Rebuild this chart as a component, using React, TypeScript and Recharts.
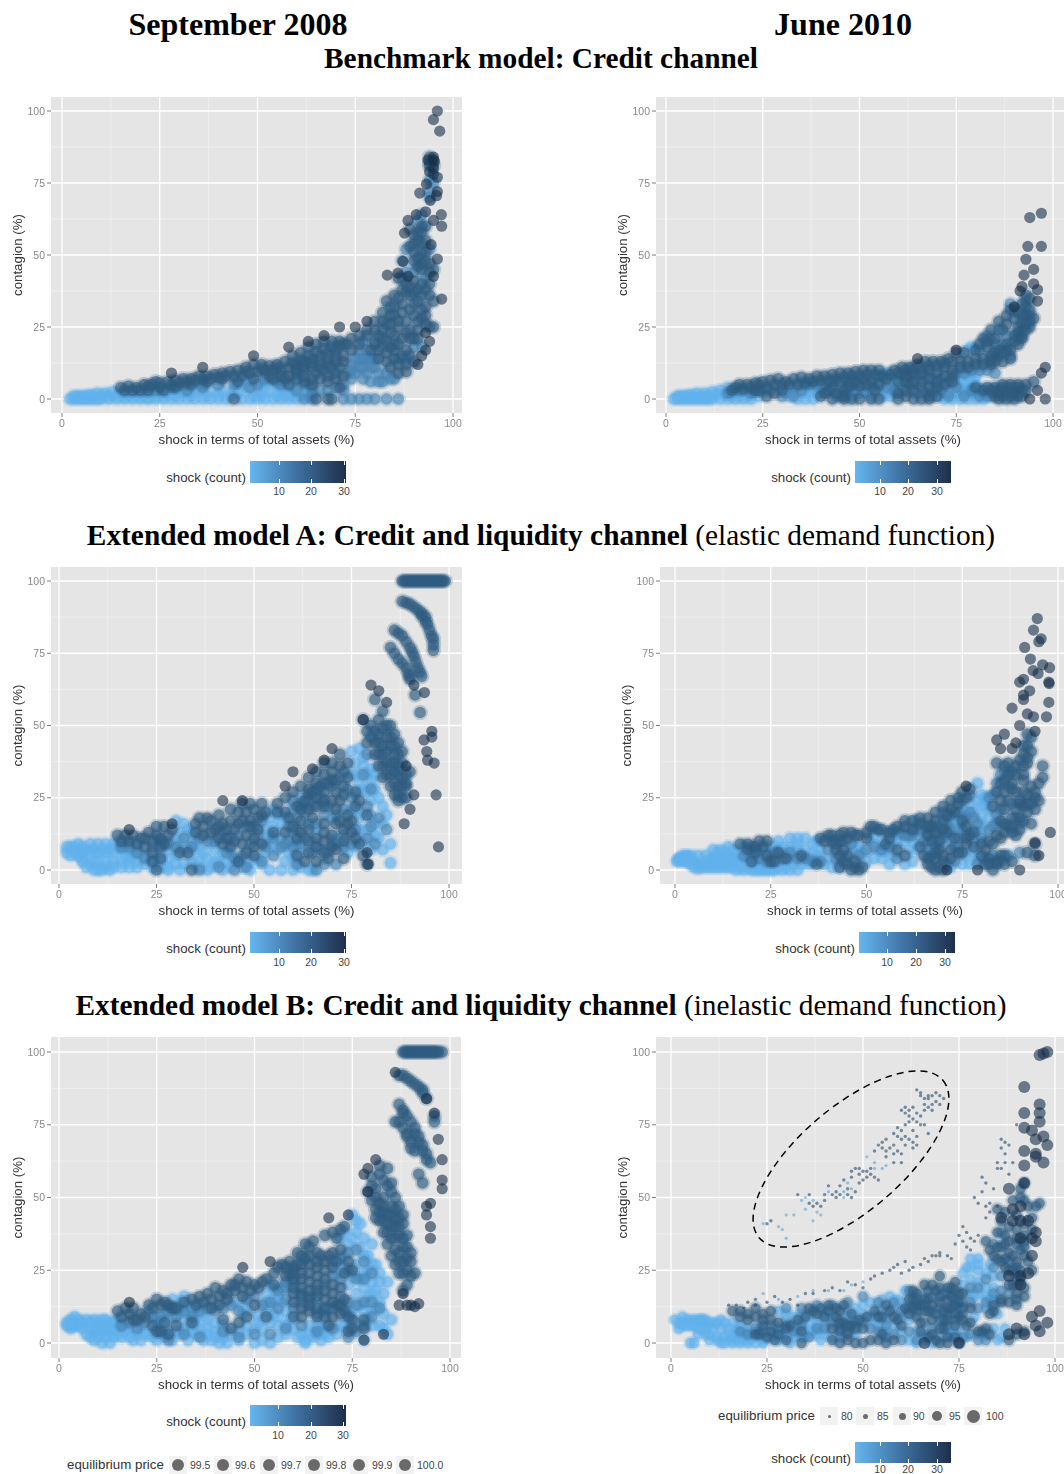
import React from "react";
import { ScatterChart, Scatter, XAxis, YAxis, CartesianGrid } from "recharts";

type Pt = [number, number];

const majorTicks = [0, 25, 50, 75, 100];
const minorTicks = [12.5, 37.5, 62.5, 87.5];
const priceFine = ["99.5", "99.6", "99.7", "99.8", "99.9", "100.0"];
const priceWide = ["80", "85", "90", "95", "100"];

// September 2008, benchmark
const bench08Pale: Pt[] = [[2,0],[3,0],[4,0],[5,0],[6,0],[7,0],[8,0],[9,0],[10,0],[12,0],[14,0],[16,0],[18,0],[20,0],[22,0],[24,0],[26,0],[28,0],[30,0],[32,0],[34,0],[36,0],[38,0],[40,0],[42,0],[46,0],[48,0],[50,0],[52,0],[54,0],[56,0],[58,0],[60,0],[5,1],[7,1.5],[9,2],[11,2],[13,2.5],[15,2],[17,2],[19,2.5],[21,1.5],[28,2],[31,2],[35,3],[38,3],[41,3],[44,3],[47,4],[50,3],[53,3],[56,3],[59,4],[62,3],[48,6],[52,6],[60,7],[3,1],[4,1],[6,1],[8,1],[10,1],[12,1],[14,1],[16,1],[18,1],[20,1],[22,0.5],[24,1],[26,1],[29,1],[33,1],[37,1],[40,1.5],[43,1],[45,2],[49,1],[51,1],[55,1],[57,1],[59,1],[61,1],[63,1],[34,3],[30,3],[27,3],[46,5],[52,4],[55,5],[58,2]];
const bench08Mid: Pt[] = [[62,0],[64,0],[72,0],[74,0],[76,0],[78,0],[80,0],[83,0],[86,0],[72,5],[74,7],[76,11],[77,14],[79,11],[81,9],[78,17],[75,9],[80,14],[77,20],[74,12],[79,6],[82,6],[84,7],[36,5],[31,5],[55,6],[50,5],[64,4],[73,9],[75,14],[77,11],[79,14],[76,17],[78,14],[80,11],[81,6],[77,7],[86,14],[88,14],[90,18],[92,18],[85,19],[83,9],[85,7],[80,20],[82,18],[76,14],[74,10],[78,9],[72,3],[68,3],[64,2],[60,3],[56,5],[52,7],[48,4],[44,5],[40,5],[36,4],[32,3],[28,4],[24,3],[70,4],[66,3],[62,5],[88,44],[90,44],[93,42],[87,48],[88,52],[94,52],[92,64],[91,62],[94,76],[95,75],[94,72],[94,70]];
const bench08Deep: Pt[] = [[15,4],[17,4.5],[19,4],[21,5],[23,5],[25,4],[22,3],[24,6],[27,6],[29,6.5],[31,7],[33,7],[35,8],[37,8],[39,8.5],[41,9],[43,9.5],[45,10],[47,11],[49,12],[51,12],[53,11.5],[55,12],[57,13],[59,15],[61,16],[63,18],[65,19],[67,20],[69,20],[71,20],[44,8],[46,8],[48,9],[50,9.5],[52,10],[54,10],[56,10],[58,11],[60,12],[62,13],[64,14],[66,15],[68,16],[70,17],[60,9],[62,10],[64,11],[66,11],[68,12],[70,13],[72,15],[74,17],[76,19],[72,19],[74,21],[66,7],[68,8],[70,9],[64,7],[62,6],[58,5],[57,7],[53,8],[49,7],[45,6],[41,7],[37,6],[33,5],[29,4],[26,3],[44,0],[65,0],[68,0],[69,0],[71,4],[78,22],[80,24],[82,27],[84,29],[83,34],[85,36],[85,32],[87,33],[87,38],[86,42],[88,40],[89,36],[90,33],[91,38],[92,40],[93,38],[94,36],[93,32],[92,28],[93,26],[91,24],[90,21],[88,23],[86,25],[84,23],[82,21],[80,19],[79,17],[84,18],[86,19],[88,17],[85,14],[83,13],[81,14],[86,9],[88,9.5],[89,21],[91,21],[94,25],[95,25],[90,48],[91,46],[92,45],[94,44],[95,45],[89,53],[90,57],[92,58],[93,60],[92,54],[93,51],[16,3],[18,3],[20,3],[22,4.5],[25,5.5],[28,5],[30,5.5],[32,6],[34,6.5],[36,7],[38,7],[40,7.5],[42,8],[47,9.5],[51,10.5],[55,11],[59,12.5],[61,13.5],[63,15],[65,16.5],[67,17.5],[69,18],[71,18.5],[73,19],[60,10.5],[62,11.5],[64,12.5],[66,13],[68,14],[70,15],[72,13],[65,9],[67,10],[69,11],[71,11],[64,5],[68,6],[70,7],[72,8],[58,8],[56,8],[60,7],[62,8],[54,7],[76,22],[78,24],[80,27],[82,30],[84,32],[86,35],[88,37],[90,37],[89,39],[87,42],[90,41],[94,40],[92,36],[91,34],[89,31],[87,30],[85,29],[83,26],[81,22],[83,20],[85,22],[87,21],[89,24],[91,27],[93,29],[95,34],[92,31],[90,29],[88,27],[86,27],[84,26],[82,24],[81,17],[83,16],[85,17],[87,15],[89,15],[88,12],[86,12],[84,11],[90,13],[92,47],[94,47],[91,49],[93,48],[90,51],[92,51],[93,55],[91,55],[90,54],[91,58],[92,60],[89,59],[94,82],[95,81],[94,84],[94,81]];
const bench08Lone: Pt[] = [[96,100],[95,97],[96.6,93],[95,83],[93.6,83],[95,84],[95.3,82.5],[95,80],[94,79],[96,77],[95,78],[93.2,74.6],[91.5,71.5],[96,72],[95.8,70.6],[94.2,69],[97,64],[97.1,60],[93,65],[90.6,64],[88.5,62],[95,62],[87.6,57.6],[94.4,53.6],[87.2,47.8],[96,48.6],[83.2,43],[85.9,43.7],[88.5,42.6],[95,42.6],[97.1,34.7],[75,25],[78,27],[71,25],[67,22],[63,20],[58,18],[49,15],[36,11],[28,9],[93,17],[94,20],[92,15],[93,23],[91,12]];

// June 2010, benchmark
const bench10Pale: Pt[] = [[2,0],[3,0],[4,0],[5,0],[6,0],[7,0],[8,0],[9,0],[10,0],[11,0],[12,0],[14,0],[16,0],[18,0],[20,0],[22,0],[34,0],[36,0],[38,0],[4,1],[6,1.5],[8,2],[10,2],[12,2.5],[14,3],[16,4],[18,2],[20,2],[31,2],[33,3],[35,5],[37,3],[39,2],[45,3],[50,2],[52,2],[55,3],[57,2],[59,4],[57,9],[60,7],[61,4],[70,1],[72,2],[73,3],[75,2],[77,3],[79,2],[81,3],[83,2],[76,7],[78,8],[80,8],[79,18],[78,17],[3,1],[5,1],[7,1],[9,1],[11,1],[13,1.5],[15,2],[17,1],[19,1],[21,1],[24,1],[32,1],[36,2],[38,4],[40,4],[44,1],[47,2],[48,1],[53,1],[56,1],[58,1],[72,0],[74,0],[76,0],[78,0],[80,0],[82,0],[84,1],[76,4],[78,4],[80,5],[77,6],[79,6],[55,6],[58,5],[59,7]];
const bench10Mid: Pt[] = [[16,2],[19,3],[22,2],[25,3],[27,3],[30,1],[33,1],[35,3],[37,5],[39,5],[41,5],[43,6],[45,1],[47,6],[49,3],[51,3],[53,4],[55,8],[57,4],[59,3],[61,9],[63,8],[65,8],[67,8],[69,7],[71,7],[73,6],[75,9],[77,9],[79,10],[81,10],[83,10],[85,9],[65,2],[67,2],[69,3],[71,3],[73,1],[75,4],[77,1],[79,3],[81,1],[83,1],[89,15],[91,21],[92,24],[94,29],[93,34],[87,19],[85,19],[84,21],[86,24],[88,22],[83,22],[81,17],[89,33],[90,31]];
const bench10Deep: Pt[] = [[17,3],[19,5],[21,5],[23,3],[23,5.5],[25,6],[27,6.5],[29,7],[31,6],[33,7],[35,7.5],[37,7],[39,8],[41,8],[43,8.5],[45,9],[47,9],[49,9.5],[51,10],[53,10],[55,10],[28,2],[26,1],[30,3],[41,2],[43,4],[45,6],[47,4],[49,6],[51,7],[53,6],[55,5],[57,7],[59,10],[61,11],[63,11],[65,12],[67,13],[69,13],[71,13],[62,8],[64,9],[66,9],[68,10],[70,9],[72,11],[74,10],[76,11],[78,11],[80,12],[82,12],[84,12],[84,15],[86,15],[88,17],[90,20],[91,23],[92,26],[93,29],[93,32],[94,35],[95,28],[94,25],[92,21],[89,14],[87,13],[85,16],[73,14],[75,16],[77,16],[80,17],[82,21],[84,24],[86,27],[88,29],[89,31],[66,6],[68,7],[63,5],[68,1],[80,4],[83,4],[85,4],[87,4],[89,4],[91,4],[93,5],[95,6],[85,1],[87,1],[89,1],[91,1],[86,2],[90,2],[43,0],[46,1],[50,0],[55,0],[62,1],[66,0],[92,22],[94,27],[93,24],[18,4],[20,3.5],[22,4],[24,3],[24,5],[26,4],[28,5],[30,5],[32,5],[34,5],[36,5.5],[38,6],[40,6.5],[42,6.5],[44,7],[46,7.5],[48,8],[50,8],[52,8.5],[54,8.5],[40,1],[42,3],[44,2],[46,3],[48,5],[50,4.5],[52,5],[54,3],[56,8],[58,8.5],[60,9],[62,10],[64,10.5],[66,11],[68,11.5],[70,11.5],[72,12.5],[74,13],[76,13],[78,13],[80,14],[82,14],[84,13.5],[60,2],[62,3],[64,3],[64,6],[66,4],[68,4],[70,4],[70,6],[72,5],[74,6],[72,8],[74,8],[60,6],[62,6],[86,17],[88,19],[90,22],[91,25],[92,29],[92,33],[93,36],[94,31],[93,26],[91,19],[89,17],[87,16],[85,13],[83,18],[85,21],[87,24],[88,26],[90,28],[91,30],[81,19],[83,20],[86,3],[88,3],[90,3],[92,3],[84,3],[82,3],[88,0],[90,0],[86,0],[92,1],[87,5],[89,5],[91,5],[93,3],[60,0],[64,0],[68,0],[70,1],[46,0],[48,0],[53,0]];
const bench10Lone: Pt[] = [[94,63],[97,64.5],[97,53],[93.5,53],[93,48.5],[95,45],[92.5,43],[91.5,37.5],[92,39],[96,38],[96,34],[95,40],[90,32],[97,9],[98,11],[98,0],[94,0],[96,3],[75,17],[65,14]];

// September 2008, model A
const extA08Pale: Pt[] = [[2,8],[3,8],[4,8],[2,6],[3,5],[5,5],[5,9],[6,8],[8,9],[10,9],[12,9],[14,9],[6,6],[8,6],[10,6],[12,6],[14,6],[16,7],[18,6],[6,3],[8,2],[9,0],[11,0],[13,0],[10,3],[12,3],[14,3],[16,3],[18,3],[20,3],[22,2],[24,3],[26,3],[28,4],[30,5],[32,7],[31,10],[31,13],[30,17],[33,14],[34,10],[28,7],[26,6],[34,4],[36,3],[38,4],[40,3],[42,0],[38,0],[31,0],[28,0],[36,7],[40,7],[44,6],[46,3],[49,3],[52,2],[54,0],[57,0],[60,0],[64,0],[65,0],[53,6],[53,10],[53,14],[54,18],[55,21],[57,16],[57,11],[56,7],[59,6],[60,4],[61,9],[60,13],[60,21],[62,25],[75,41],[77,42],[78,39],[76,37],[78,36],[79,33],[80,31],[81,28],[82,25],[83,22],[84,19],[83,16],[80,24],[79,27],[77,30],[76,26],[75,21],[77,18],[79,14],[78,10],[76,8],[74,6],[82,11],[83,7],[85,9],[80,7],[85,2.5],[71,11],[66,14],[65,10],[70,18],[4,6],[6,4],[7,1],[9,3],[10,0],[12,1],[14,1],[16,1],[18,1],[20,1],[22,5],[24,1],[26,1],[28,1],[30,2],[32,2],[34,2],[36,1],[39,1],[41,3],[43,3],[44,1],[47,1],[49,0],[51,4],[7,7],[9,7],[11,7],[13,7],[15,8],[17,5],[19,5],[20,7],[29,10],[32,16],[34,13],[35,9],[37,6],[39,9],[42,6],[54,12],[55,15],[56,19],[58,18],[55,9],[58,3],[62,7],[62,1],[80,35],[81,33],[78,28],[80,19],[81,16],[81,12],[77,20],[75,33],[76,33],[77,14]];
const extA08Mid: Pt[] = [[16,8],[18,8],[20,6],[22,4],[24,8],[26,10],[28,9],[30,8],[32,11],[34,8],[36,11],[38,10],[40,10],[42,13],[44,11],[46,12],[48,15],[50,15],[52,17],[43,6],[45,4],[47,5],[49,9],[51,12],[53,8],[55,11],[57,8],[59,10],[61,14],[59,15],[61,18],[63,20],[65,22],[67,25],[69,22],[71,19],[73,21],[63,11],[65,6],[67,7],[69,6],[71,9],[73,8],[75,9],[76,14],[73,12],[70,10],[68,19],[66,16],[64,16],[62,9],[60,8],[58,9],[55,5],[52,3],[48,1],[45,0],[41,1],[36,0],[66,0],[68,2],[71,2],[61,2],[75,25],[74,28],[72,32],[70,29],[68,30],[66,28],[64,24],[62,23],[60,24],[78,33],[79,40],[80,28],[79,22],[80,15],[79,11],[84,14],[82,18],[81,9]];
const extA08Deep: Pt[] = [[15,12],[17,12],[19,12],[21,11],[23,13],[25,15],[27,15],[29,14],[25,12],[22,8],[24,6],[26,4],[26,8],[31,6],[33,6],[35,16],[37,15],[39,17],[41,19],[38,18],[40,14],[42,16],[44,17],[46,20],[48,20],[50,21],[46,16],[49,17],[42,9],[44,8],[47,9],[50,8],[46,3],[25,0],[34,0],[52,23],[51,14],[50,11],[56,23],[58,20],[58,25],[60,27],[62,29],[64,32],[66,30],[68,33],[70,34],[72,36],[72,40],[74,37],[68,37],[70,31],[64,26],[66,25],[68,27],[71,27],[73,29],[74,32],[76,27],[77,24],[79,19],[76,22],[74,19],[71,21],[68,22],[65,18],[62,17],[68,16],[71,16],[73,14],[75,13],[77,9],[78,5],[70,8],[68,10],[66,8],[64,6],[63,3],[66,3],[69,4],[73,4],[61,5],[79,2],[78,52],[79,48],[81,44],[82,40],[83,36],[84,33],[85,29],[86,26],[87,24],[81,59],[83,55],[84,50],[86,47],[87,44],[88,41],[86,40],[85,37],[87,36],[88,32],[89,29],[80,50],[82,47],[83,43],[85,43],[86,34],[87,29],[89,30],[90,34],[88,25],[88,93],[90,92],[92,90],[93,88],[94,86],[95,83],[96,78],[96,76],[86,83],[88,81],[90,77],[91,74],[92,70],[93,67],[85,77],[87,73],[89,70],[90,67],[88,100],[89,100],[90,100],[91,100],[92,100],[93,100],[94,100],[95,100],[96,100],[97,100],[98,100],[99,100],[92.6,54.5],[91.3,60.6],[89,92.5],[91,91],[93,89],[94,87.5],[94.5,85],[95.5,81],[96,80],[87,82],[89,79],[90.5,75.5],[91.5,72],[92.5,68.5],[86,75],[88,71.5],[89.5,68],[90,66],[88.5,100],[89.5,100],[90.5,100],[91.5,100],[92.5,100],[93.5,100],[94.5,100],[95.5,100],[96.5,100],[97.5,100],[98.5,100],[80,46],[81,48],[82,44],[83,40],[84,37],[84,41],[85,33],[86,30],[87,26],[82,52],[83,49],[85,50],[86,43],[87,40],[88,37],[85,46],[84,46],[82,36],[83,32],[86,37],[87,33],[88,29],[89,25],[89,33],[81,40],[79,44],[16,10],[18,10],[20,9],[22,11],[24,10],[26,11],[28,12],[27,9],[24,3],[35,13],[37,12],[39,13],[41,15],[43,14],[45,14],[47,17],[49,15],[51,18],[36,18],[44,21],[47,23],[49,23],[52,19],[53,20],[43,11],[45,10],[48,12],[41,11],[50,5],[48,6],[52,9],[55,13],[56,20],[59,18],[61,22],[63,24],[65,27],[67,29],[69,30],[71,31],[73,34],[66,34],[70,37],[64,28],[62,21],[64,21],[66,22],[68,24],[70,24],[72,24],[73,26],[60,15],[62,13],[64,14],[66,11],[68,13],[70,12],[72,17],[74,16],[73,10],[71,7],[68,6],[64,10],[61,11],[58,13],[75,17],[76,11]];
const extA08Lone: Pt[] = [[80,64],[82,62],[84,58],[89,36],[91,26],[90,21],[88.5,16],[93.7,61.4],[93.6,45],[95.6,48],[95.6,46],[94.3,41],[94.5,38],[96.2,37],[96.7,26],[97.3,8],[79.3,2],[79,6],[60,34],[68,38],[70,42],[65,35],[58,29],[42,24],[47,24],[29,16],[18,14],[78,52],[91,64]];

// June 2010, model A
const extA10Pale: Pt[] = [[0.5,3],[1,4],[2,4],[3,5],[3,3],[4,2],[4,5],[5,3],[6,2],[6,5],[8,5],[8,3],[6,0.5],[8,1],[10,1],[12,1],[14,1],[16,0],[18,0],[20,0],[22,0],[24,0],[26,0],[28,0],[30,0],[32,0],[10,4],[10,7],[12,4],[12,7],[14,4],[14,8],[16,6],[16,3],[18,8],[19,4],[21,3],[23,2],[25,6],[27,10],[28,6],[30,11],[30,4],[32,11],[32,7],[34,11],[35,2],[36,6],[37,10],[40,4],[46,6],[48,8],[50,3],[52,12],[53,7],[55,6],[56,2],[58,13],[58,9],[61,7],[62,3],[63,17],[64,12],[71,19],[73,16],[72,11],[74,8],[75,21],[77,23],[79,24],[81,22],[80,18],[78,14],[82,18],[80,26],[79,30],[78,10],[76,5],[75,2],[2,3],[1,3.5],[2,5],[4,4],[5,1],[7,1],[9,1],[11,1],[13,1],[15,1],[17,1],[19,1],[21,0],[23,0],[25,0],[27,1],[29,1],[31,2],[33,2],[35,4],[37,5],[38,7],[39,2],[41,1],[43,1],[9,3],[11,3],[13,3],[15,4],[17,4],[11,6],[13,6],[15,7],[20,6],[22,6],[24,8],[26,8],[28,8],[30,8],[32,9],[34,7],[36,9],[47,8],[49,6],[51,10],[52,4],[54,4],[54,10],[55,13],[57,5],[58,11],[60,10],[60,2],[62,10],[63,7],[65,15],[66,7],[68,10],[70,9],[72,17],[74,14],[76,12],[76,19],[74,17],[78,20],[80,22],[81,25],[80,15],[82,21],[80,13],[78,6],[72,1],[77,2],[79,4],[81,4]];
const extA10Mid: Pt[] = [[18,5],[20,8],[22,4],[24,3],[26,6],[28,4],[30,6],[32,4],[34,4],[36,3],[38,3],[40,7],[42,4],[44,10],[46,9],[48,5],[50,7],[52,8],[54,7],[56,8],[58,4],[59,13],[61,12],[63,14],[65,10],[66,9],[67,5],[68,8],[69,13],[70,11],[71,16],[72,14],[73,8],[74,11],[75,14],[76,18],[77,20],[78,18],[79,16],[80,11],[82,14],[84,16],[84,19],[85,21],[83,15],[82,25],[83,26],[84,30],[85,33],[86,34],[87,29],[88,23],[89,18],[90,16],[74,20],[72,19],[70,20],[68,15],[66,13],[64,14],[62,12],[60,12],[75,24],[77,26],[73,3],[71,2],[79,2],[83,5],[85,3],[87,5],[90,6]];
const extA10Deep: Pt[] = [[17,9],[19,9],[21,8],[20,3],[23,8],[24,5],[25,3],[27,6],[29,4],[33,5],[37,2],[38,11],[40,12],[41,10],[43,12],[45,11],[42,9],[44,7],[45,5],[45,2],[46,0],[48,0],[47,3],[48,12],[50,13],[51,15],[53,14],[55,9],[56,11],[57,14],[58,7],[60,5],[60,15],[62,17],[64,16],[66,18],[64,8],[65,5],[66,2],[66,12],[67,15],[68,20],[69,7],[70,14],[70,22],[72,24],[74,23],[75,27],[77,28],[68,4],[68,0],[70,0],[72,4],[74,6],[76,9],[76,15],[80,9],[82,10],[84,12],[86,13],[88,15],[90,18],[91,22],[92,26],[93,29],[94,25],[92,20],[93,16],[89,12],[85,17],[83,22],[84,27],[85,30],[87,33],[88,30],[89,27],[90,24],[91,33],[89,36],[87,37],[91,40],[92,43],[93,46],[90,38],[84,37],[80,5],[82,4],[85,5],[88,3],[83,0],[84,2],[86,5],[92,6],[94,9],[94,5],[95,30],[95,24],[96,32],[96,36],[19,7],[21,6],[22,10],[24,10],[26,3],[39,10],[41,12],[43,10],[44,13],[46,13],[47,12],[42,7],[43,5],[44,3],[43,1],[47,1],[49,1],[50,11],[52,15],[54,14],[56,13],[58,15],[60,17],[62,14],[64,18],[66,15],[67,10],[68,13],[68,17],[69,10],[70,17],[70,3],[71,19],[72,21],[73,20],[74,25],[76,25],[70,5],[68,6],[67,1],[69,1],[66,4],[72,7],[71,13],[73,11],[75,6],[75,17],[76,11],[78,13],[77,12],[78,8],[81,7],[83,9],[85,11],[87,15],[88,18],[89,21],[90,23],[91,27],[91,31],[92,37],[91,36],[89,33],[88,28],[87,24],[86,21],[85,24],[86,27],[86,31],[88,34],[86,36],[92,39],[91,43],[93,41],[92,47],[94,21],[93,23],[94,27],[92,23],[91,17],[90,14],[88,13],[86,16],[84,3],[86,2],[82,2],[81,2]];
const extA10Lone: Pt[] = [[94.6,87],[93.6,83],[95.6,80],[95,79],[91.3,77],[92.8,73],[96,71],[97.8,70],[93.5,69],[94.8,68],[91,66],[90,65],[97.6,65],[97.7,64.5],[92.6,62],[91,60.5],[91,59],[97.6,58],[88,56],[92,54],[97,53],[93.6,53],[90,50],[94,48],[86,47],[84,45],[85,42],[88,42],[89,44],[98,13],[90,0],[95,5],[94,9.5],[79,0],[71,0],[76,29]];

// September 2008, model B
const extB08Pale: Pt[] = [[2,7],[3,8],[4,9],[5,8],[3,6],[5,6],[6,5],[7,8],[9,8],[11,8],[13,7],[15,8],[7,3],[9,1],[11,0],[13,0],[15,3],[9,4],[11,4],[13,4],[15,5],[17,4],[19,1],[21,1],[23,3],[25,1],[27,2],[29,1],[31,3],[33,1],[35,3],[37,1],[39,1],[41,0],[27,6],[29,9],[31,14],[33,13],[31,10],[33,7],[35,6],[37,9],[25,9],[23,11],[21,6],[38,5],[40,4],[43,0],[46,1],[48,3],[50,0],[52,1],[54,0],[50,5],[52,5],[54,7],[56,6],[56,2],[58,6],[55,10],[57,14],[55,18],[57,19],[53,14],[61,2],[63,0],[65,2],[67,1],[69,2],[64,6],[66,6],[68,6],[75,44],[77,41],[76,38],[78,36],[80,34],[79,30],[81,27],[82,24],[84,21],[83,17],[80,21],[78,24],[76,27],[73,30],[74,34],[72,36],[71,24],[74,20],[76,17],[79,16],[78,11],[81,12],[83,10],[85,8],[82,6],[79,8],[75,11],[73,6],[71,3],[84,3],[78,1],[66,14],[69,12],[47,10],[45,14],[2,6],[3,5],[4,6],[4,7],[6,7],[8,7],[10,7],[12,8],[14,7],[8,5],[10,5],[12,5],[14,5],[16,6],[18,5],[8,2],[10,2],[12,2],[14,2],[16,2],[18,2],[20,3],[22,3],[24,2],[26,3],[28,4],[30,4],[32,5],[34,4],[36,5],[38,3],[40,2],[42,2],[44,3],[46,4],[33,10],[35,9],[30,12],[29,15],[32,16],[27,10],[25,7],[36,13],[34,11],[38,8],[40,7],[42,6],[48,6],[51,7],[47,13],[49,11],[51,9],[53,11],[55,14],[53,17],[54,20],[56,16],[58,11],[56,9],[59,8],[58,3],[60,5],[62,3],[64,3],[66,3],[68,3],[63,1],[67,4],[76,42],[73,38],[75,36],[77,33],[78,30],[80,27],[79,25],[77,22],[75,23],[73,26],[80,17],[82,14],[80,11],[77,13],[78,19],[82,21],[81,18],[76,7],[80,6],[83,5],[74,10],[72,6]];
const extB08Mid: Pt[] = [[16,6],[18,7],[20,5],[22,7],[24,9],[26,9],[28,11],[30,9],[32,11],[34,9],[36,11],[38,12],[40,11],[42,12],[44,13],[46,11],[48,15],[50,16],[52,13],[54,14],[56,18],[58,19],[56,12],[58,15],[60,12],[62,14],[64,16],[66,10],[68,11],[70,12],[72,16],[74,14],[76,13],[78,14],[76,22],[74,25],[72,22],[70,23],[68,20],[70,28],[72,29],[74,31],[76,32],[78,28],[80,24],[78,22],[80,14],[82,12],[80,9],[78,6],[76,4],[74,2],[70,5],[66,4],[62,6],[58,5],[54,3],[50,3],[46,2],[42,4],[36,2],[32,3],[28,1],[60,21],[58,21],[62,17]];
const extB08Deep: Pt[] = [[15,11],[17,12],[19,12],[21,10],[19,8],[23,13],[25,15],[27,14],[29,12],[24,6],[26,4],[28,3],[30,6],[34,7],[34,15],[36,16],[38,17],[40,19],[42,18],[44,20],[46,22],[48,21],[39,12],[41,13],[43,15],[45,18],[47,16],[42,8],[44,5],[46,7],[48,9],[50,20],[50,13],[52,21],[53,9],[55,24],[57,27],[59,28],[58,23],[60,22],[62,30],[64,33],[66,31],[60,26],[62,24],[64,27],[66,26],[68,28],[60,17],[62,19],[64,21],[66,20],[68,22],[62,12],[64,15],[66,16],[68,15],[70,17],[71,13],[70,9],[72,10],[73,15],[72,19],[73,24],[70,31],[72,32],[70,38],[72,39],[74,28],[75,25],[68,37],[60,9],[64,11],[69,6],[75,8],[74,4],[78,5],[78,8],[79,52],[80,49],[81,46],[82,42],[83,38],[84,34],[85,30],[86,27],[87,24],[81,53],[83,50],[85,47],[86,43],[87,40],[88,36],[89,33],[80,57],[82,58],[84,54],[85,52],[86,50],[87,47],[88,44],[83,45],[85,40],[86,36],[87,31],[88,28],[89,25],[90,31],[90,23],[91,24],[89,20],[88,18],[87,92],[89,91],[90,90],[92,88],[93,86],[94,84],[87,82],[88,80],[89,78],[91,74],[92,71],[93,68],[94,65],[95,62],[87,76],[89,72],[90,69],[91,66],[88,100],[89,100],[90,100],[91,100],[92,100],[93,100],[94,100],[95,100],[96,100],[97,100],[98,100],[92,58],[93,55],[96,78],[96,76],[16,9],[18,10],[20,8],[22,9],[24,12],[26,13],[28,13],[30,12],[32,14],[25,4],[27,7],[35,13],[37,14],[39,15],[41,16],[43,17],[45,20],[47,19],[49,18],[51,19],[53,22],[55,20],[56,26],[58,26],[59,24],[61,27],[63,29],[61,31],[63,34],[65,35],[67,30],[69,30],[66,28],[64,30],[62,27],[60,24],[62,22],[64,24],[66,23],[68,25],[70,26],[60,19],[62,16],[64,18],[66,18],[68,18],[70,20],[71,28],[60,14],[62,9],[64,13],[66,12],[68,12],[70,14],[68,9],[72,13],[73,11],[75,5],[74,9],[66,9],[71,36],[73,40],[80,54],[81,50],[82,48],[83,47],[84,44],[85,44],[86,40],[87,37],[88,33],[89,29],[90,28],[82,45],[84,41],[85,36],[86,32],[87,28],[88,24],[84,38],[83,42],[81,43],[86,46],[87,43],[88,41],[89,37],[83,56],[85,55],[84,60],[82,61],[88,92],[91,89],[93,87],[88,79],[90,76],[91,72],[92,69],[93,66],[94,63],[86,76],[88,74],[89,71],[90,67],[88.5,100],[89.5,100],[90.5,100],[91.5,100],[92.5,100],[93.5,100],[94.5,100],[95.5,100],[96.5,100]];
const extB08Lone: Pt[] = [[86,93],[94,84],[96,79],[97,70],[98,63],[98,56],[98,53],[95,48],[94,47],[94,44],[95,40],[95,36],[89,13],[90,13],[91,12.5],[92,13.5],[87,13],[78,1],[83,3],[78,58],[79,52],[81,63],[79,60],[69,43],[74,44],[47,26],[54,28],[18,14],[88,17]];

// June 2010, model B
const priceTinyPale: Pt[] = [[24,41],[28,40],[29,39],[30,44],[32,44],[35,46],[34,49],[35,50],[37,49],[38,45],[39,44],[41,52],[45,50],[46,55],[53,60],[55,60],[56,61],[51,64],[53,62],[30,36],[37,42],[47,53],[45,52],[24,17],[28,15],[33,16],[37,18],[41,18],[45,18],[50,21],[47,20]];
const priceTinyDeep: Pt[] = [[25,41],[26,42],[33,51],[36,51],[38,48],[40,49],[41,54],[42,51],[43,52],[44,54],[45,56],[46,53],[47,57],[48,52],[49,55],[50,59],[51,57],[52,58],[53,57],[54,56],[48,60],[49,58],[53,66],[54,68],[55,67],[56,66],[58,65],[59,66],[60,65],[60,62],[56,70],[58,72],[59,71],[60,73],[61,71],[62,70],[63,69],[59,74],[60,80],[61,79],[62,78],[63,77],[64,76],[65,75],[63,73],[64,71],[61,81],[62,76],[64,87],[65,85],[66,84],[67,84],[68,85],[69,83],[70,82],[71,84],[66,82],[67,81],[68,80],[15,13],[17,13],[19,12],[22,13],[25,14],[29,14],[35,17],[40,18],[44,18],[50,19],[53,23],[57,25],[60,24],[62,25],[65,27],[67,28],[69,30],[70,30],[72,30],[73,29],[75,37],[76,40],[77,33],[78,32],[79,35],[80,37],[80,48],[81,52],[79,50],[83,45],[84,53],[85,47],[85,60],[86,60],[86,67],[87,65],[88,58],[89,62],[36,48],[37,47],[39,47],[40,51],[43,50],[44,51],[46,51],[47,50],[49,60],[50,56],[51,59],[52,60],[47,59],[55,69],[57,67],[58,68],[60,70],[61,68],[63,67],[56,64],[58,62],[62,80],[63,81],[64,79],[65,78],[66,75],[67,72],[64,68],[61,75],[65,86],[69,86],[68,82],[70,85],[67,85],[66,80],[20,14],[22,15],[27,16],[31,15],[33,13],[37,17],[42,19],[46,21],[48,20],[52,22],[55,24],[58,26],[59,27],[61,28],[63,26],[66,29],[68,30],[70,31],[74,34],[77,38],[78,36],[76,35],[82,47],[83,48],[82,43],[81,57],[82,55],[86,70],[87,69],[87,62],[85,62],[90,75],[88,68]];
const pricePale: Pt[] = [[1,8],[2,7],[3,9],[4,8],[5,6],[6,8],[7,8],[8,8],[9,8],[10,7],[5,0],[6,0],[7,5],[9,5],[11,5],[13,5],[15,5],[17,5],[12,2],[14,2],[16,2],[18,2],[20,2],[14,0],[16,0],[18,0],[20,0],[22,0],[24,0],[27,4],[29,2],[31,0],[33,3],[35,2],[37,4],[39,1],[38,8],[40,7],[36,10],[34,7],[32,9],[30,10],[28,11],[46,11],[48,12],[50,13],[52,14],[54,11],[56,8],[58,6],[60,4],[55,15],[57,16],[59,15],[61,18],[56,4],[53,7],[48,3],[44,2],[62,1],[64,0],[66,3],[68,0],[72,4],[74,3],[76,20],[78,22],[80,25],[78,29],[77,26],[80,29],[80,21],[82,19],[84,23],[83,27],[83,15],[82,12],[85,10],[84,5],[87,5],[86,2],[79,16],[75,12],[2,5],[3,6],[4,6],[5,8],[6,6],[7,3],[8,5],[9,3],[10,3],[11,7],[12,7],[13,8],[14,7],[15,3],[16,7],[17,3],[18,6],[19,4],[20,5],[21,2],[22,2],[23,5],[8,8],[10,1],[12,1],[13,0],[16,1],[18,1],[20,1],[24,1],[26,2],[28,1],[30,3],[32,2],[34,2],[36,4],[38,3],[40,3],[42,2],[30,8],[32,6],[34,10],[36,7],[38,6],[40,10],[42,9],[44,8],[46,9],[48,8],[50,10],[52,9],[54,6],[56,11],[58,12],[60,9],[60,14],[62,8],[64,4],[65,16],[66,1],[70,2],[71,17],[73,3],[75,5],[76,24],[78,26],[80,27],[82,24],[80,17],[82,16],[84,15],[78,17],[84,19],[79,9],[82,3],[85,1],[77,2],[80,3]];
const priceMid: Pt[] = [[18,4],[20,3],[22,5],[24,4],[26,6],[28,5],[30,6],[32,4],[34,6],[36,2],[38,5],[40,5],[42,7],[44,5],[46,4],[48,7],[50,7],[52,5],[54,4],[56,6],[58,3],[60,11],[62,12],[64,11],[64,15],[66,13],[66,7],[68,11],[68,16],[70,12],[70,8],[72,10],[72,17],[74,15],[74,8],[76,14],[76,10],[78,14],[78,19],[80,19],[80,12],[82,14],[82,22],[84,17],[84,26],[86,23],[86,18],[88,17],[88,28],[86,38],[84,34],[90,23],[62,18],[58,14],[54,14],[50,16],[46,14],[42,13],[38,13],[34,12],[30,12],[56,2],[60,1],[62,4],[64,1],[68,5],[72,6],[76,2],[78,3],[80,1],[82,1]];
const priceDeep: Pt[] = [[16,11],[18,11],[20,10],[22,12],[24,10],[26,11],[24,6],[26,4],[22,3],[28,7],[30,5],[34,0],[34,4],[37,11],[39,12],[41,13],[43,12],[43,9],[45,7],[47,6],[42,5],[44,4],[46,1],[48,0],[50,0],[52,1],[45,13],[47,10],[49,8],[50,5],[55,3],[54,9],[57,11],[58,9],[62,15],[63,12],[64,9],[65,7],[65,13],[67,15],[67,11],[68,8],[68,3],[69,18],[70,14],[71,11],[72,8],[72,19],[73,16],[74,13],[75,9],[71,5],[74,6],[75,0],[77,6],[78,12],[76,17],[74,21],[70,23],[66,20],[63,18],[84,11],[86,14],[88,14],[90,13],[85,29],[83,32],[82,35],[86,33],[88,31],[90,28],[91,32],[87,26],[89,25],[91,25],[89,20],[91,22],[92,19],[90,17],[92,16],[94,25],[93,28],[92,33],[90,36],[92,37],[94,39],[87,37],[86,42],[85,46],[88,40],[90,44],[91,50],[92,55],[93,47],[95,47],[96,48],[81,4],[83,3],[88,1],[90,3],[92,4],[70,0],[72,0],[18,9],[20,8],[22,9],[24,8],[26,8],[23,3],[25,2],[27,1],[28,3],[30,1],[31,6],[33,8],[35,9],[36,12],[38,10],[40,9],[41,11],[44,11],[44,7],[46,6],[48,5],[46,3],[42,1],[44,0],[54,1],[56,0],[58,1],[51,9],[53,11],[55,9],[56,13],[59,8],[60,6],[61,12],[62,10],[63,15],[64,13],[66,11],[66,15],[67,18],[68,13],[69,10],[70,16],[70,19],[71,8],[72,12],[72,15],[73,12],[73,19],[74,10],[75,17],[75,14],[76,8],[74,18],[76,12],[68,20],[64,17],[65,4],[67,2],[69,1],[70,5],[72,2],[74,2],[78,7],[80,4],[82,5],[84,30],[85,33],[86,28],[87,29],[88,35],[87,34],[89,30],[90,34],[92,30],[90,26],[88,25],[88,20],[90,20],[90,15],[86,15],[84,13],[83,10],[85,38],[87,45],[89,49],[91,53],[92,49],[94,43],[92,41],[90,39],[92,35]];
const priceLone: Pt[] = [[96,99],[97,99.5],[98,100],[92,88],[92,79],[96,79],[96,82],[92,74],[96,76],[94,73],[95,70],[97,71],[98,68],[92,66],[95,64],[95,65],[97,62],[92,61],[88,53],[92,55],[91,47],[89,46],[93,42],[86,43],[89,42],[91,42],[95,38],[94,36],[95,35],[91,36],[94,30],[88,23],[91,23],[93,24],[91,20],[94,9],[96,11],[98,7],[95,6],[96,4],[92,3],[90,5],[88,3],[66,0],[75,0]];

type Layer = { count: number; r: number; halo: number; points: Pt[] };
type PanelDef = {
  left: number; right: number; top: number; bottom: number;
  x0: number; x100: number; y0: number; y100: number;
  layers: Layer[];
  bar: { left: number; top: number; height: number; ticks: number[]; labelTop: number };
};

const layerSet = (pale: Pt[], mid: Pt[], deep: Pt[], lone: Pt[]): Layer[] => [
  { count: 1, r: 5.8, halo: 2, points: pale },
  { count: 11, r: 5.8, halo: 2, points: mid },
  { count: 20, r: 5.8, halo: 2, points: deep },
  { count: 30, r: 5.6, halo: 0, points: lone },
];

const panels: PanelDef[] = [
  { left: 51, right: 462, top: 97, bottom: 413, x0: 62, x100: 453, y0: 399, y100: 111, layers: layerSet(bench08Pale, bench08Mid, bench08Deep, bench08Lone), bar: { left: 250, top: 461, height: 22, ticks: [279, 311, 344], labelTop: 485 } },
  { left: 656, right: 1070, top: 97, bottom: 413, x0: 666, x100: 1053, y0: 399, y100: 111, layers: layerSet(bench10Pale, bench10Mid, bench10Deep, bench10Lone), bar: { left: 855, top: 461, height: 22, ticks: [880, 908, 937], labelTop: 485 } },
  { left: 51, right: 462, top: 567, bottom: 884, x0: 59, x100: 449, y0: 870, y100: 581, layers: layerSet(extA08Pale, extA08Mid, extA08Deep, extA08Lone), bar: { left: 250, top: 932, height: 21, ticks: [279, 311, 344], labelTop: 956 } },
  { left: 660, right: 1070, top: 567, bottom: 884, x0: 675, x100: 1058, y0: 870, y100: 581, layers: layerSet(extA10Pale, extA10Mid, extA10Deep, extA10Lone), bar: { left: 859, top: 932, height: 21, ticks: [887, 916, 945], labelTop: 956 } },
  { left: 51, right: 461, top: 1037, bottom: 1358, x0: 59, x100: 450, y0: 1343, y100: 1052, layers: layerSet(extB08Pale, extB08Mid, extB08Deep, extB08Lone), bar: { left: 250, top: 1405, height: 21, ticks: [278, 311, 343], labelTop: 1429 } },
  {
    left: 656, right: 1070, top: 1037, bottom: 1358, x0: 671, x100: 1055, y0: 1343, y100: 1052,
    layers: [
      { count: 1, r: 5.2, halo: 2, points: pricePale },
      { count: 11, r: 5.2, halo: 2, points: priceMid },
      { count: 20, r: 5.2, halo: 2, points: priceDeep },
      { count: 30, r: 6, halo: 0, points: priceLone },
      { count: 4, r: 1.6, halo: 0, points: priceTinyPale },
      { count: 24, r: 1.7, halo: 0, points: priceTinyDeep },
    ],
    bar: { left: 855, top: 1442, height: 21, ticks: [880, 908, 937], labelTop: 1463 },
  },
];

const sans = "'Liberation Sans', Arial, sans-serif";
const serif = "'Liberation Serif', 'Times New Roman', serif";

// low to high count, same ends as the colour bar
function countColor(count: number) {
  const t = Math.min(1, Math.max(0, (count - 1) / 30));
  const low = [96, 176, 236];
  const high = [19, 43, 67];
  const c = low.map((v, i) => Math.round(v + (high[i] - v) * t));
  return `rgb(${c[0]},${c[1]},${c[2]})`;
}

function Panel({ def }: { def: PanelDef }) {
  const axisW = 42;
  const axisH = 46;
  const w = def.right - def.left + axisW;
  const h = def.bottom - def.top + axisH;
  const sx = (def.x100 - def.x0) / 100;
  const sy = (def.y0 - def.y100) / 100;
  const xDomain = [(def.left - def.x0) / sx, (def.right - def.x0) / sx];
  const yDomain = [(def.y0 - def.bottom) / sy, (def.y0 - def.top) / sy];
  return (
    <div style={{ position: "absolute", left: def.left - axisW, top: def.top, filter: "blur(0.4px)" }}>
      <ScatterChart width={w} height={h} margin={{ top: 0, right: 0, bottom: 0, left: 0 }}>
        <CartesianGrid fill="#e5e5e5" stroke="#f2f2f2" strokeWidth={0.7} horizontalValues={minorTicks} verticalValues={minorTicks} />
        <CartesianGrid stroke="#ffffff" strokeWidth={1.3} horizontalValues={majorTicks} verticalValues={majorTicks} />
        <XAxis
          type="number"
          dataKey="x"
          domain={xDomain}
          allowDataOverflow
          ticks={majorTicks}
          interval={0}
          height={axisH}
          axisLine={false}
          tickSize={4}
          tickMargin={3}
          tickLine={{ stroke: "#7f7f7f" }}
          tick={{ fill: "#8a8a8a", fontSize: 10.5, fontFamily: sans }}
          label={{ value: "shock in terms of total assets (%)", position: "insideBottom", offset: 15, fill: "#333", fontSize: 13.3, fontFamily: sans }}
        />
        <YAxis
          type="number"
          dataKey="y"
          domain={yDomain}
          allowDataOverflow
          ticks={majorTicks}
          interval={0}
          width={axisW}
          axisLine={false}
          tickSize={4}
          tickMargin={2}
          tickLine={{ stroke: "#7f7f7f" }}
          tick={{ fill: "#8a8a8a", fontSize: 10.5, fontFamily: sans }}
          label={{ value: "contagion (%)", angle: -90, position: "insideLeft", offset: 8, fill: "#333", fontSize: 13.3, fontFamily: sans, style: { textAnchor: "middle" } }}
        />
        {def.layers.map((layer, i) => (
          <Scatter
            key={i}
            data={layer.points.map(([x, y]) => ({ x, y }))}
            isAnimationActive={false}
            shape={(p: any) => (
              <g>
                {layer.halo > 0 && <circle cx={p.cx} cy={p.cy} r={layer.r + layer.halo} fill={countColor(layer.count)} fillOpacity={0.22} />}
                <circle cx={p.cx} cy={p.cy} r={layer.r} fill={countColor(layer.count)} fillOpacity={0.6} />
              </g>
            )}
          />
        ))}
      </ScatterChart>
    </div>
  );
}

function Label({ x, y, size, color, anchor, children }: any) {
  const shift = anchor === "end" ? "-100%" : anchor === "middle" ? "-50%" : "0";
  return (
    <div style={{ position: "absolute", left: x, top: y, transform: `translate(${shift},-50%)`, fontSize: size, color, fontFamily: sans, whiteSpace: "nowrap", lineHeight: 1 }}>
      {children}
    </div>
  );
}

function ColorBar({ left, top, height, ticks, labelTop }: PanelDef["bar"]) {
  const labels = ["10", "20", "30"];
  return (
    <>
      <Label x={left - 4} y={top + height / 2 + 6} size={13.3} color="#333" anchor="end">shock (count)</Label>
      <div style={{ position: "absolute", left, top, width: 96, height, background: "linear-gradient(90deg,#66b6f0,#3d6f9f 50%,#1f2f4c)" }} />
      {ticks.map((t, i) => (
        <React.Fragment key={t}>
          <div style={{ position: "absolute", left: t - 0.5, top, width: 1, height: 4, background: "#fff" }} />
          <div style={{ position: "absolute", left: t - 0.5, top: top + height - 4, width: 1, height: 4, background: "#fff" }} />
          <Label x={t} y={labelTop + 6} size={10.5} color="#444" anchor="middle">{labels[i]}</Label>
        </React.Fragment>
      ))}
    </>
  );
}

function SizeKey({ y, title, titleX, labels, dotX, textX, radii }: any) {
  return (
    <>
      <Label x={titleX} y={y} size={13.3} color="#333">{title}</Label>
      {labels.map((t: string, i: number) => (
        <React.Fragment key={t}>
          <div style={{ position: "absolute", left: dotX[i] - 9, top: y - 9, width: 18, height: 18, background: "#f2f2f2" }} />
          <div style={{ position: "absolute", left: dotX[i] - radii[i], top: y - radii[i], width: radii[i] * 2, height: radii[i] * 2, borderRadius: "50%", background: "#6a6a6a" }} />
          <Label x={textX[i]} y={y} size={10.5} color="#444">{t}</Label>
        </React.Fragment>
      ))}
    </>
  );
}

function Heading({ y, bold, plain }: { y: number; bold: string; plain?: string }) {
  return (
    <div style={{ position: "absolute", left: 0, width: 1082, top: y, transform: "translateY(-50%)", textAlign: "center", fontFamily: serif, fontSize: 29.35, lineHeight: 1, color: "#000", whiteSpace: "nowrap" }}>
      <b>{bold}</b>{plain ? ` ${plain}` : ""}
    </div>
  );
}

export default function App() {
  return (
    <div style={{ position: "absolute", left: 0, top: 0, width: 1064, height: 1474, overflow: "hidden", background: "#fff" }}>
      <div style={{ position: "absolute", left: 238, top: 24, transform: "translate(-50%,-50%)", fontFamily: serif, fontWeight: 700, fontSize: 32, lineHeight: 1, whiteSpace: "nowrap" }}>September 2008</div>
      <div style={{ position: "absolute", left: 843, top: 24, transform: "translate(-50%,-50%)", fontFamily: serif, fontWeight: 700, fontSize: 32, lineHeight: 1, whiteSpace: "nowrap" }}>June 2010</div>
      <Heading y={58.5} bold="Benchmark model: Credit channel" />
      <Heading y={536} bold="Extended model A: Credit and liquidity channel" plain="(elastic demand function)" />
      <Heading y={1006} bold="Extended model B: Credit and liquidity channel" plain="(inelastic demand function)" />

      {panels.map((def, i) => (
        <React.Fragment key={i}>
          <Panel def={def} />
          <ColorBar {...def.bar} />
        </React.Fragment>
      ))}

      <svg width={1064} height={1474} style={{ position: "absolute", left: 0, top: 0, pointerEvents: "none" }}>
        <ellipse cx={851} cy={1159} rx={121} ry={52} transform="rotate(-40.6 851 1159)" fill="none" stroke="#000" strokeWidth={1.5} strokeDasharray="7 5" />
      </svg>

      <SizeKey y={1465} title="equilibrium price" titleX={67} labels={priceFine} dotX={[178, 223, 269, 314, 359, 405]} textX={[190, 235, 281, 326, 372, 417]} radii={[6, 6, 6, 6, 6, 6]} />
      <SizeKey y={1416} title="equilibrium price" titleX={718} labels={priceWide} dotX={[829, 865, 902, 937, 973]} textX={[841, 877, 913, 949, 986]} radii={[1.5, 2.5, 3.5, 5, 6.5]} />
    </div>
  );
}
